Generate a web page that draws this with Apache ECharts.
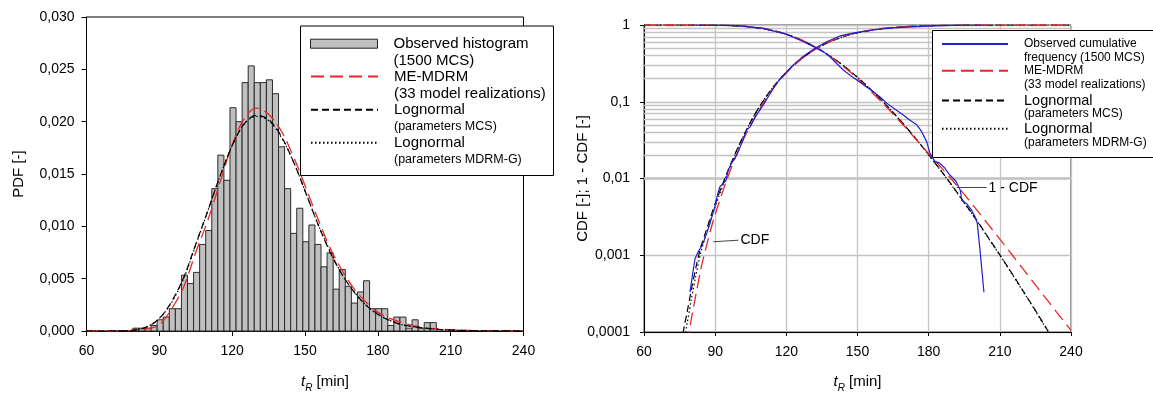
<!DOCTYPE html>
<html><head><meta charset="utf-8">
<script src="https://cdn.jsdelivr.net/npm/echarts@6/dist/echarts.min.js"></script>
<style>html,body{margin:0;padding:0;background:#fff}#c{width:1153px;height:394px}</style>
</head><body><div id="c"></div>
<script>
const FONT = '"Liberation Sans", Arial, Helvetica, sans-serif';

// ---------- Left panel: histogram (PDF) ----------
const binLeft = [79.1, 81.6, 84.1, 86.6, 89.1, 91.6, 94.1, 96.6, 99.1, 101.6, 104.1, 106.6, 109.1, 111.6, 114.1, 116.6, 119.1, 121.6, 124.1, 126.6, 129.1, 131.6, 134.1, 136.6, 139.1, 141.6, 144.1, 146.6, 149.1, 151.6, 154.1, 156.6, 159.1, 161.6, 164.1, 166.6, 169.1, 171.6, 174.1, 176.6, 179.1, 181.6, 184.1, 186.6, 189.1, 191.6, 194.1, 196.6, 199.1, 201.6];
const binWidth = 2.5;
const histPDF = [0.00027, 0.00027, 0.00027, 0.00053, 0.00107, 0.00133, 0.00213, 0.00213, 0.00533, 0.00453, 0.0056, 0.00827, 0.0096, 0.0136, 0.0168, 0.0144, 0.02133, 0.02, 0.02373, 0.02533, 0.02373, 0.02373, 0.024, 0.02267, 0.0176, 0.0136, 0.00933, 0.01173, 0.00853, 0.01013, 0.00827, 0.00613, 0.00747, 0.004, 0.00587, 0.00427, 0.00267, 0.00373, 0.0048, 0.00213, 0.00213, 0.00213, 0.00053, 0.00133, 0.00133, 0.00027, 0.00107, 0.00027, 0.0008, 0.0008];

const pdfX = [60, 70, 75, 80, 85, 90, 95, 100, 105, 110, 115, 120, 125, 130, 135, 140, 145, 150, 155, 160, 165, 170, 175, 180, 185, 190, 195, 200, 205, 210, 220, 230, 240];
const pdfMCS = [0, 0.000002, 0.00002, 0.0001, 0.0004, 0.0012, 0.0028, 0.0051, 0.0083, 0.0115, 0.0148, 0.0177, 0.0198, 0.0206, 0.0202, 0.0187, 0.0163, 0.0134, 0.0104, 0.0077, 0.0055, 0.0038, 0.0025, 0.0016, 0.0010, 0.0006, 0.0004, 0.00025, 0.00015, 0.00009, 0.00003, 0.00001, 0];
const pdfMDRMG = [0, 0.000002, 0.00002, 0.0001, 0.0004, 0.0012, 0.0027, 0.0050, 0.0082, 0.0115, 0.0148, 0.0177, 0.0198, 0.0205, 0.0201, 0.0186, 0.0163, 0.0134, 0.0104, 0.0078, 0.0055, 0.0038, 0.0025, 0.0016, 0.0010, 0.0006, 0.0004, 0.00025, 0.00015, 0.00009, 0.00003, 0.00001, 0];
const pdfMEM = [0, 0, 0.00001, 0.00005, 0.0002, 0.0006, 0.0021, 0.0042, 0.0075, 0.0106, 0.0142, 0.0178, 0.0203, 0.0213, 0.0207, 0.0192, 0.0168, 0.0139, 0.0109, 0.0081, 0.0059, 0.0041, 0.0028, 0.0018, 0.0012, 0.0008, 0.0005, 0.0003, 0.0002, 0.00012, 0.00004, 0.00001, 0];

// ---------- Right panel: CDF and 1-CDF ----------
const obsCdfX = [79.4, 80.6, 81.5, 82.9, 84.2, 85.3, 86.6, 87.8, 89.9, 91.0, 92.0, 93.5, 94.5, 95.5, 97.0, 99.1, 101.0, 103.3, 104.7, 107.0, 110.3, 113.0, 115.9, 119.0, 122.9, 127.0, 132.1, 137.0, 142.6, 149.7, 156.7, 165.0, 175.0, 185.0, 195.0, 203.3];
const obsCdfY = [0.00033, 0.0006, 0.0009, 0.00112, 0.0013, 0.00155, 0.0020, 0.0026, 0.0043, 0.0062, 0.0078, 0.0087, 0.0093, 0.0129, 0.016, 0.0203, 0.028, 0.043, 0.047, 0.064, 0.091, 0.125, 0.174, 0.225, 0.30, 0.39, 0.497, 0.606, 0.72, 0.80, 0.86, 0.92, 0.955, 0.983, 0.995, 0.99967];
const obsSfX = [79.4, 90, 100, 110, 120, 127, 132.8, 135.5, 138.4, 141, 144, 147, 149.7, 153, 156.7, 160, 162.3, 166, 169.3, 172, 175, 177, 179.2, 180.5, 181.5, 182.7, 184.5, 186.9, 188.5, 190.4, 191.5, 193.3, 194, 196, 198, 199.5, 200.5, 201.6, 203.3];
const obsSfY = [0.99967, 0.996, 0.975, 0.905, 0.76, 0.61, 0.50, 0.45, 0.386, 0.32, 0.259, 0.22, 0.192, 0.163, 0.135, 0.112, 0.096, 0.079, 0.067, 0.058, 0.05, 0.041, 0.030, 0.0215, 0.019, 0.0166, 0.016, 0.0136, 0.0115, 0.0100, 0.0092, 0.0071, 0.0052, 0.0047, 0.0039, 0.0032, 0.0026, 0.0012, 0.00033];

const lnCdfX = [75, 76, 77, 78, 80, 82, 84, 86, 88, 90, 95, 100, 105, 110, 115, 120, 125, 130, 135, 140, 145, 150, 160, 170, 180, 190, 200, 210, 220, 230, 240];
const mcsCdfY = [0.00005, 0.00008, 0.00012, 0.00017, 0.00036, 0.00072, 0.0013, 0.002, 0.0031, 0.0047, 0.0118, 0.027, 0.0551, 0.0998, 0.163, 0.2435, 0.3377, 0.439, 0.540, 0.6355, 0.72, 0.792, 0.894, 0.951, 0.980, 0.992, 0.997, 0.999, 0.99966, 0.99989, 0.99997];
const mdrmgCdfY = [0.00003, 0.00005, 0.00008, 0.00012, 0.00027, 0.00057, 0.0011, 0.0018, 0.0028, 0.0043, 0.0113, 0.0265, 0.055, 0.1, 0.163, 0.244, 0.338, 0.439, 0.54, 0.635, 0.72, 0.792, 0.894, 0.951, 0.98, 0.992, 0.997, 0.999, 0.99966, 0.99989, 0.99997];
const lnSfX = [60, 80, 90, 100, 110, 115, 120, 125, 130, 135, 140, 145, 150, 155, 160, 165, 170, 175, 180, 185, 190, 195, 200, 205, 210, 215, 220, 225, 230, 235];
const mcsSfY = [1, 0.9997, 0.9958, 0.973, 0.90, 0.837, 0.757, 0.662, 0.561, 0.46, 0.3645, 0.28, 0.208, 0.1505, 0.106, 0.0726, 0.0487, 0.0319, 0.0204, 0.0129, 0.008, 0.00486, 0.00293, 0.00173, 0.00101, 0.000587, 0.000336, 0.000191, 0.000107, 0.00006];
const mdrmgSfY = [1, 0.9998, 0.9962, 0.9735, 0.90, 0.837, 0.756, 0.662, 0.561, 0.46, 0.365, 0.28, 0.208, 0.150, 0.106, 0.0725, 0.0486, 0.0318, 0.0203, 0.0128, 0.0079, 0.0048, 0.0029, 0.0017, 0.001, 0.00058, 0.00033, 0.000188, 0.000105, 0.000059];

const memCdfX = [78, 79, 80, 82, 84, 86, 88, 90, 95, 100, 105, 110, 115, 120, 125, 130, 135, 140, 145, 150, 160, 170, 180, 190, 200, 210, 220, 230, 240];
const memCdfY = [0.00007, 0.0001, 0.00015, 0.00032, 0.00067, 0.0012, 0.0021, 0.0034, 0.0098, 0.024, 0.050, 0.093, 0.157, 0.237, 0.332, 0.436, 0.54, 0.64, 0.727, 0.80, 0.90, 0.952, 0.978, 0.9905, 0.9961, 0.9984, 0.99935, 0.99974, 0.99989];
const memSfX = [60, 80, 90, 100, 110, 115, 120, 125, 130, 135, 140, 145, 150, 155, 160, 165, 170, 175, 180, 185, 190, 195, 200, 205, 210, 215, 220, 225, 230, 235, 240];
const memSfY = [1, 0.99985, 0.9966, 0.976, 0.907, 0.843, 0.763, 0.668, 0.564, 0.46, 0.36, 0.273, 0.20, 0.143, 0.10, 0.069, 0.047, 0.0315, 0.021, 0.0142, 0.0095, 0.0062, 0.0040, 0.00255, 0.00162, 0.00103, 0.00065, 0.00041, 0.00026, 0.000165, 0.000105];

const yLogLabels = ['0,0001', '0,001', '0,01', '0,1', '1'];

// names
const N_HIST = 'Observed histogram';
const N_OBS = 'Observed cumulative frequency';
const N_MEM = 'ME-MDRM';
const N_MCS = 'Lognormal (parameters MCS)';
const N_MDG = 'Lognormal (parameters MDRM-G)';

const zip = (xs, ys) => xs.map((x, i) => [x, ys[i]]);

const C_RED = '#e8262a';
const C_BLUE = '#1f1fd6';
const DASH_RED = [13, 6];
const DASH_BLK = [7, 4];
const DOT = [1.5, 2.5];

// minor log grid lines (2..9 per decade)
const minorLog = [];
[-4, -3, -2, -1].forEach(d => { for (let k = 2; k <= 9; k++) minorLog.push(+(k * Math.pow(10, d)).toPrecision(2)); });

const tR = '{i|t}{s|R}{n| [min]}';
const tRrich = {
  i: {fontFamily: FONT, fontSize: 15, fontStyle: 'italic', lineHeight: 22, color: '#000'},
  s: {fontFamily: FONT, fontSize: 10, fontStyle: 'italic', lineHeight: 12, verticalAlign: 'bottom', color: '#000'},
  n: {fontFamily: FONT, fontSize: 15, lineHeight: 22, color: '#000'}
};

const axisCommon = {
  axisLine: {show: true, onZero: false, lineStyle: {color: '#000', width: 1}},
  axisTick: {show: true, inside: false, length: 5, lineStyle: {color: '#000'}},
  axisLabel: {fontFamily: FONT, fontSize: 14, color: '#000'},
  nameMoveOverlap: false
};

const leftLegendText = {
  [N_HIST]: '{a|Observed histogram}\n{a|(1500 MCS)}',
  [N_MEM]: '{a|ME-MDRM}\n{a|(33 model realizations)}',
  [N_MCS]: '{a|Lognormal}\n{b|(parameters MCS)}',
  [N_MDG]: '{a|Lognormal}\n{b|(parameters MDRM-G)}'
};
const rightLegendText = {
  [N_OBS]: '{c|Observed cumulative}\n{c|frequency (1500 MCS)}',
  [N_MEM]: '{c|ME-MDRM}\n{c|(33 model realizations)}',
  [N_MCS]: '{d|Lognormal}\n{c|(parameters MCS)}',
  [N_MDG]: '{d|Lognormal}\n{c|(parameters MDRM-G)}'
};
const hideSym = {opacity: 0};

// legend entries (one legend component per entry so each row sits where the reference has it)
const leftEntries = [
  {name: N_HIST, icon: 'rect', itemStyle: {color: '#c0c0c0', borderColor: '#222', borderWidth: 1, opacity: 1}},
  {name: N_MEM, itemStyle: hideSym}, {name: N_MCS, itemStyle: hideSym}, {name: N_MDG, itemStyle: hideSym}
];
const leftRowY = [42.7, 75.5, 108.7, 141.7];
const rightEntries = [{name: N_OBS, itemStyle: hideSym}, {name: N_MEM, itemStyle: hideSym}, {name: N_MCS, itemStyle: hideSym}, {name: N_MDG, itemStyle: hideSym}];
const rightRowY = [45, 71.7, 100, 128.3];

const legends = [];
leftEntries.forEach((d, i) => legends.push({
  left: 310, top: leftRowY[i] - 6.5, orient: 'vertical', padding: 0,
  itemWidth: 67, itemHeight: 9, selectedMode: false, data: [d],
  formatter: n => leftLegendText[n],
  textStyle: {padding: [17, 0, 0, 11], rich: {
    a: {fontFamily: FONT, fontSize: 15, lineHeight: 17, color: '#000'},
    b: {fontFamily: FONT, fontSize: 12.5, lineHeight: 17, color: '#000'}}}
}));
rightEntries.forEach((d, i) => legends.push({
  left: 941, top: rightRowY[i] - 7, orient: 'vertical', padding: 0,
  itemWidth: 66, itemHeight: 9, selectedMode: false, data: [d],
  formatter: n => rightLegendText[n],
  textStyle: {padding: [13.5, 0, 0, 11], rich: {
    c: {fontFamily: FONT, fontSize: 12, lineHeight: 13.5, color: '#000'},
    d: {fontFamily: FONT, fontSize: 14.5, lineHeight: 13.5, color: '#000'}}}
}));

const option = {
  animation: false,
  backgroundColor: '#fff',
  textStyle: {fontFamily: FONT},
  grid: [
    {left: 86.5, top: 17, width: 437, height: 314, show: true, borderColor: '#000', borderWidth: 1, backgroundColor: 'transparent', outerBoundsMode: 'none'},
    {left: 644, top: 25, width: 427, height: 307, show: true, borderColor: '#333', borderWidth: 1, backgroundColor: 'transparent', outerBoundsMode: 'none'}
  ],
  xAxis: [
    Object.assign({}, axisCommon, {
      gridIndex: 0, type: 'value', min: 60, max: 240, interval: 30,
      axisLabel: Object.assign({}, axisCommon.axisLabel, {margin: 13}),
      splitLine: {show: false},
      name: tR, nameLocation: 'middle', nameGap: 40,
      nameTextStyle: {rich: tRrich, padding: [0, 0, 0, 40]}
    }),
    Object.assign({}, axisCommon, {
      gridIndex: 1, type: 'value', min: 60, max: 240, interval: 30,
      axisLabel: Object.assign({}, axisCommon.axisLabel, {margin: 13}),
      axisTick: {show: true, inside: false, length: 4, lineStyle: {color: '#000'}},
      splitLine: {show: true, lineStyle: {color: '#c4c4c4', width: 1.3}},
      name: tR, nameLocation: 'middle', nameGap: 39,
      nameTextStyle: {rich: tRrich}
    })
  ],
  yAxis: [
    Object.assign({}, axisCommon, {
      gridIndex: 0, type: 'value', min: 0, max: 0.03, interval: 0.005,
      axisLabel: Object.assign({}, axisCommon.axisLabel, {margin: 12, formatter: v => v.toFixed(3).replace('.', ',')}),
      splitLine: {show: false},
      name: 'PDF [-]', nameLocation: 'middle', nameGap: 60,
      nameTextStyle: {fontFamily: FONT, fontSize: 15, color: '#000'}
    }),
    Object.assign({}, axisCommon, {
      gridIndex: 1, type: 'log', logBase: 10, min: 0.0001, max: 1,
      axisTick: {show: true, inside: false, length: 4, lineStyle: {color: '#000'}},
      axisLabel: Object.assign({}, axisCommon.axisLabel, {margin: 14, formatter: v => yLogLabels[Math.round(Math.log10(v)) + 4]}),
      splitLine: {show: true, lineStyle: {color: '#c4c4c4', width: 1.3}},
      name: 'CDF [-]; 1 - CDF [-]', nameLocation: 'middle', nameGap: 54,
      nameTextStyle: {fontFamily: FONT, fontSize: 15, color: '#000'}
    })
  ],
  legend: legends,
  graphic: [
    {type: 'rect', left: 300, top: 25.5, z: 3, shape: {width: 253, height: 149.5}, style: {fill: '#fff', stroke: '#000', lineWidth: 1}},
    {type: 'rect', left: 932, top: 30, z: 3, shape: {width: 240, height: 127}, style: {fill: '#fff', stroke: '#000', lineWidth: 1}}
  ],
  series: [
    // ----- left panel -----
    {
      name: N_HIST, type: 'custom', xAxisIndex: 0, yAxisIndex: 0,
      itemStyle: {color: '#c0c0c0', borderColor: '#222', borderWidth: 1},
      encode: {x: [0, 1], y: 2},
      data: binLeft.map((x, i) => [x, x + binWidth, histPDF[i]]),
      renderItem: (params, api) => {
        const p0 = api.coord([api.value(0), api.value(2)]);
        const p1 = api.coord([api.value(1), 0]);
        return {
          type: 'rect',
          shape: {x: p0[0], y: p0[1], width: p1[0] - p0[0], height: p1[1] - p0[1]},
          style: {fill: '#c0c0c0', stroke: '#2a2a2a', lineWidth: 1}
        };
      }
    },
    {name: N_MEM, type: 'line', xAxisIndex: 0, yAxisIndex: 0, symbol: 'none', smooth: 0.35,
      lineStyle: {color: C_RED, width: 1.3, type: DASH_RED}, itemStyle: {color: C_RED}, data: zip(pdfX, pdfMEM), z: 4},
    {name: N_MCS, type: 'line', xAxisIndex: 0, yAxisIndex: 0, symbol: 'none', smooth: 0.35,
      lineStyle: {color: '#000', width: 1.2, type: DASH_BLK}, itemStyle: {color: '#000'}, data: zip(pdfX, pdfMCS), z: 4},
    {name: N_MDG, type: 'line', xAxisIndex: 0, yAxisIndex: 0, symbol: 'none', smooth: 0.35,
      lineStyle: {color: '#000', width: 1.2, type: DOT}, itemStyle: {color: '#000'}, data: zip(pdfX, pdfMDRMG), z: 4},

    // ----- right panel -----
    {name: 'grid-minor', type: 'line', xAxisIndex: 1, yAxisIndex: 1, data: [], silent: true,
      markLine: {silent: true, z: 1, symbol: ['none', 'none'], label: {show: false},
        lineStyle: {color: '#c4c4c4', width: 1.3, type: 'solid'}, emphasis: {disabled: true},
        data: minorLog.map(v => ({yAxis: v}))}},
    {name: N_MDG, type: 'line', xAxisIndex: 1, yAxisIndex: 1, symbol: 'none', smooth: 0.3,
      lineStyle: {color: '#000', width: 1.2, type: DOT}, itemStyle: {color: '#000'}, data: zip(lnCdfX, mdrmgCdfY)},
    {name: N_MDG, type: 'line', xAxisIndex: 1, yAxisIndex: 1, symbol: 'none', smooth: 0.3,
      lineStyle: {color: '#000', width: 1.2, type: DOT}, itemStyle: {color: '#000'}, data: zip(lnSfX, mdrmgSfY)},
    {name: N_MCS, type: 'line', xAxisIndex: 1, yAxisIndex: 1, symbol: 'none', smooth: 0.3,
      lineStyle: {color: '#000', width: 1.2, type: DASH_BLK}, itemStyle: {color: '#000'}, data: zip(lnCdfX, mcsCdfY)},
    {name: N_MCS, type: 'line', xAxisIndex: 1, yAxisIndex: 1, symbol: 'none', smooth: 0.3,
      lineStyle: {color: '#000', width: 1.2, type: DASH_BLK}, itemStyle: {color: '#000'}, data: zip(lnSfX, mcsSfY)},
    {name: N_MEM, type: 'line', xAxisIndex: 1, yAxisIndex: 1, symbol: 'none', smooth: 0.3,
      lineStyle: {color: C_RED, width: 1.3, type: DASH_RED}, itemStyle: {color: C_RED}, data: zip(memCdfX, memCdfY)},
    {name: N_MEM, type: 'line', xAxisIndex: 1, yAxisIndex: 1, symbol: 'none', smooth: 0.3,
      lineStyle: {color: C_RED, width: 1.3, type: DASH_RED}, itemStyle: {color: C_RED}, data: zip(memSfX, memSfY)},
    {name: N_OBS, type: 'line', xAxisIndex: 1, yAxisIndex: 1, symbol: 'none',
      lineStyle: {color: C_BLUE, width: 1.2, type: 'solid'}, itemStyle: {color: C_BLUE}, data: zip(obsCdfX, obsCdfY)},
    {name: N_OBS, type: 'line', xAxisIndex: 1, yAxisIndex: 1, symbol: 'none',
      lineStyle: {color: C_BLUE, width: 1.2, type: 'solid'}, itemStyle: {color: C_BLUE}, data: zip(obsSfX, obsSfY)},
    {name: 'annotations', type: 'line', xAxisIndex: 1, yAxisIndex: 1, data: [], silent: true,
      markLine: {silent: true, symbol: ['none', 'none'], emphasis: {disabled: true},
        lineStyle: {color: '#444', width: 1, type: 'solid'},
        label: {show: true, position: 'end', distance: 2, fontFamily: FONT, fontSize: 14, color: '#000'},
        data: [
          [{coord: [89.2, 0.0015], label: {formatter: 'CDF'}}, {coord: [99.8, 0.00157], label: {formatter: 'CDF'}}],
          [{coord: [191.8, 0.0076], label: {formatter: '1 - CDF'}}, {coord: [204.4, 0.0076], label: {formatter: '1 - CDF'}}]
        ]}}
  ]
};

const chart = echarts.init(document.getElementById('c'), null, {renderer: 'canvas'});
chart.setOption(option);
</script></body></html>
